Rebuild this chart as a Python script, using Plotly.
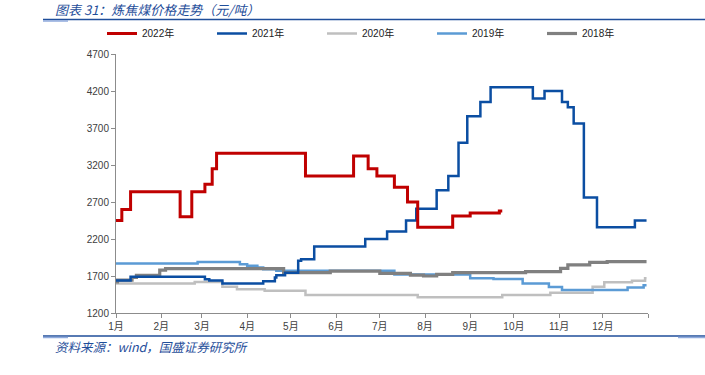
import plotly.graph_objects as go
import pandas as pd

# ---- data (normalised to a common calendar year; values in 元/吨) ----
dates_2022 = ["2022-01-01", "2022-01-05", "2022-01-11", "2022-02-14", "2022-02-22", "2022-03-03",
              "2022-03-08", "2022-03-11", "2022-05-11", "2022-06-13", "2022-06-23", "2022-06-29",
              "2022-07-11", "2022-07-20", "2022-07-27", "2022-08-20", "2022-09-01", "2022-09-21",
              "2022-09-23"]
price_2022 = [2450, 2600, 2840, 2500, 2840, 2940, 3150, 3360, 3050, 3320, 3150, 3050,
              2900, 2700, 2360, 2510, 2550, 2580, 2580]

dates_2021 = ["2022-01-01", "2022-01-11", "2022-03-03", "2022-03-06", "2022-03-15", "2022-04-12",
              "2022-04-20", "2022-04-21", "2022-04-27", "2022-05-06", "2022-05-08", "2022-05-17",
              "2022-06-21", "2022-07-06", "2022-07-19", "2022-07-26", "2022-08-09", "2022-08-17",
              "2022-08-24", "2022-08-30", "2022-09-08", "2022-09-15", "2022-10-14", "2022-10-22",
              "2022-11-03", "2022-11-07", "2022-11-11", "2022-11-18", "2022-11-27", "2022-12-23",
              "2022-12-31"]
price_2021 = [1640, 1690, 1655, 1640, 1600, 1630, 1680, 1710, 1745, 1905, 1925, 2100,
              2200, 2300, 2450, 2610, 2860, 3050, 3500, 3860, 4050, 4250, 4100, 4200,
              4050, 3980, 3760, 2760, 2360, 2450, 2450]

dates_2020 = ["2022-01-01", "2022-02-24", "2022-03-15", "2022-03-25", "2022-04-13", "2022-05-11",
              "2022-07-27", "2022-09-23", "2022-10-26", "2022-11-24", "2022-12-02", "2022-12-21",
              "2022-12-30", "2022-12-31"]
price_2020 = [1600, 1620, 1555, 1520, 1500, 1443, 1412, 1443, 1474, 1555, 1615, 1637,
              1669, 1669]

dates_2019 = ["2022-01-01", "2022-02-26", "2022-03-27", "2022-04-01", "2022-04-08", "2022-04-12",
              "2022-04-21", "2022-06-30", "2022-07-11", "2022-09-01", "2022-09-17", "2022-10-07",
              "2022-10-25", "2022-11-03", "2022-12-18", "2022-12-29", "2022-12-31"]
price_2019 = [1870, 1890, 1860, 1840, 1815, 1790, 1770, 1770, 1720, 1670, 1660, 1600,
              1550, 1510, 1545, 1575, 1575]

dates_2018 = ["2022-01-01", "2022-01-02", "2022-01-12", "2022-01-15", "2022-01-31", "2022-02-04",
              "2022-04-21", "2022-04-26", "2022-05-28", "2022-07-01", "2022-07-22", "2022-07-31",
              "2022-08-09", "2022-08-20", "2022-08-27", "2022-10-09", "2022-11-02", "2022-11-07",
              "2022-11-22", "2022-12-04", "2022-12-31"]
price_2018 = [1620, 1645, 1680, 1710, 1780, 1800, 1800, 1745, 1765, 1736, 1713, 1700,
              1723, 1745, 1745, 1760, 1804, 1849, 1885, 1894, 1894]

month_ticks = ["2022-%02d-01" % m for m in range(1, 13)] + ["2023-01-01"]
month_labels = ["1月", "2月", "3月", "4月", "5月", "6月", "7月", "8月", "9月", "10月", "11月", "12月", ""]
y_ticks = [1200, 1700, 2200, 2700, 3200, 3700, 4200, 4700]

# ---- figure ----
series = [
    ("2020年", dates_2020, price_2020, "#BFBFBF", 2.5, 3),
    ("2019年", dates_2019, price_2019, "#5B9BD5", 2.5, 4),
    ("2018年", dates_2018, price_2018, "#808080", 3.2, 5),
    ("2021年", dates_2021, price_2021, "#0B4EA2", 2.5, 2),
    ("2022年", dates_2022, price_2022, "#C00000", 3.0, 1),
]

fig = go.Figure()
for name, d, v, color, w, rank in series:
    fig.add_trace(go.Scatter(
        x=pd.to_datetime(d), y=v, name=name, mode="lines",
        line=dict(color=color, width=w, shape="hv"),
        legendrank=rank,
    ))

W, H = 705, 375
L, R, T, B = 116, 57, 54, 62
pw, ph = W - L - R, H - T - B

def px_x(p):
    return (p - L) / pw

def px_y(p):
    return (H - B - p) / ph

axis_col = "#8C8C8C"
text_col = "#404040"
blue_dark = "#1F4E9A"

fig.update_layout(
    width=W, height=H,
    margin=dict(l=L, r=R, t=T, b=B),
    paper_bgcolor="white", plot_bgcolor="white",
    font=dict(family="Liberation Sans, Arial, Noto Sans CJK SC", size=10, color=text_col),
    showlegend=True,
    legend=dict(
        orientation="h", x=px_x(102), y=px_y(19), xanchor="left", yanchor="top",
        font=dict(size=10, color="#222222", family="Liberation Sans, Noto Sans CJK SC"),
        entrywidth=65, entrywidthmode="pixels", itemwidth=30,
        bgcolor="rgba(0,0,0,0)", traceorder="normal",
    ),
    xaxis=dict(
        type="date",
        range=["2022-01-01", "2023-01-01"],
        tickmode="array", tickvals=month_ticks, ticktext=month_labels,
        ticks="outside", ticklen=4, tickcolor=axis_col,
        showline=True, linecolor=axis_col, linewidth=1,
        showgrid=False, zeroline=False,
        tickfont=dict(size=10, color=text_col),
    ),
    yaxis=dict(
        range=[1200, 4700], tickmode="array", tickvals=y_ticks,
        ticks="outside", ticklen=4, tickcolor=axis_col,
        showline=True, linecolor=axis_col, linewidth=1,
        showgrid=False, zeroline=False,
        tickfont=dict(size=10, color=text_col),
    ),
)

# title and source
fig.add_annotation(
    text="图表 31：炼焦煤价格走势（元/吨）", xref="paper", yref="paper",
    x=px_x(53), y=px_y(9.5), xanchor="left", yanchor="middle", showarrow=False,
    font=dict(family="Noto Sans CJK SC", size=13, color=blue_dark, style="italic"),
)
fig.add_annotation(
    text="资料来源：wind，国盛证券研究所", xref="paper", yref="paper",
    x=px_x(53), y=px_y(346), xanchor="left", yanchor="middle", showarrow=False,
    font=dict(family="Noto Sans CJK SC", size=12.5, color=blue_dark, style="italic"),
)

# header / footer rules
for yy in (19.5, 336):
    fig.add_shape(type="line", xref="paper", yref="paper",
                  x0=px_x(43), x1=px_x(705), y0=px_y(yy), y1=px_y(yy),
                  line=dict(color=blue_dark, width=1.5))
    fig.add_shape(type="line", xref="paper", yref="paper",
                  x0=px_x(43), x1=px_x(68), y0=px_y(yy + 1.5), y1=px_y(yy + 1.5),
                  line=dict(color="#8FAADC", width=1.5))
fig.add_shape(type="line", xref="paper", yref="paper",
              x0=px_x(678), x1=px_x(705), y0=px_y(337.5), y1=px_y(337.5),
              line=dict(color="#8FAADC", width=1.5))

fig.write_html("out.html", config={"displayModeBar": False},
               post_script="document.body.style.margin='0px';")
